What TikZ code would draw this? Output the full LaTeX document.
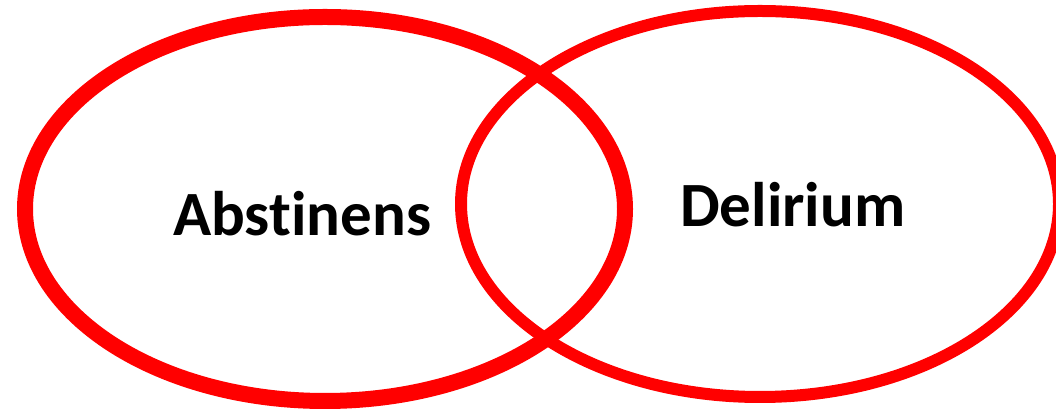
\documentclass[tikz,border=0pt]{standalone}
\usepackage{fontspec}
\setmainfont[Ligatures={NoCommon}]{Carlito}
\begin{document}
\begin{tikzpicture}[x=1pt,y=1pt,
  ring/.style={draw={rgb,255:red,255;green,0;blue,0}},
  label/.style={font=\bfseries\fontsize{63}{72}\selectfont, inner sep=0pt, anchor=base west}]
\useasboundingbox (0,0) rectangle (1056,411);
\begin{scope}
\clip (0,0) rectangle (1056,411);
\draw[ring, line width=16] (325,202) ellipse [x radius=300, y radius=192];
\draw[ring, line width=12] (760,207) ellipse [x radius=299, y radius=193];
\end{scope}
\node[label] (abst) at (173,175) {Abstinens};
\node[label] (del) at (680,184) {Delirium};
\end{tikzpicture}
\end{document}
